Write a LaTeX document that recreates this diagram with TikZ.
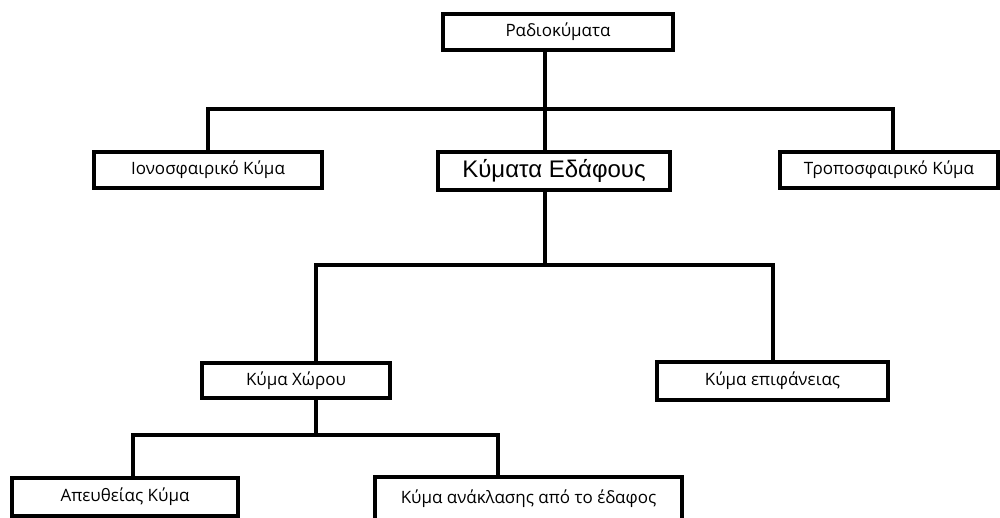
\documentclass[tikz,border=0pt]{standalone}
\usepackage{fontspec}
\setmainfont{Open Sans}
\newfontfamily\arialf{Liberation Sans}
\begin{document}
\begin{tikzpicture}[x=1pt,y=1pt,
  box/.style={draw=black, line width=3.2pt, fill=white, inner sep=0pt, font=\fontsize{17}{19}\selectfont},
  conn/.style={draw=black, line width=3.2pt, line cap=rect}]
\clip (0,0) rectangle (1000,518);
\fill[white] (0,0) rectangle (1000,518);
% nodes
\node[box, minimum width=230, minimum height=36] (radio) at (558,486) {Ραδιοκύματα};
\node[box, minimum width=228, minimum height=36] (iono) at (208,348) {Ιονοσφαιρικό Κύμα};
\node[box, minimum width=232, minimum height=38, font=\arialf\fontsize{24}{26}\selectfont] (edafous) at (554,347) {Κύματα Εδάφους};
\node[box, minimum width=218, minimum height=36] (tropo) at (889,348) {Τροποσφαιρικό Κύμα};
\node[box, minimum width=188, minimum height=35] (xorou) at (296,137.5) {Κύμα Χώρου};
\node[box, minimum width=231, minimum height=38] (epif) at (772.5,137) {Κύμα επιφάνειας};
\node[box, minimum width=226, minimum height=38] (apeu) at (125,21) {Απευθείας Κύμα};
\node[box, minimum width=307, minimum height=44, text depth=0pt] (anakl) at (528.5,19) {\raisebox{4pt}{Κύμα ανάκλασης από το έδαφος}};
% junction coordinates
\coordinate (j1) at (545,409);
\coordinate (l1) at (208,409);
\coordinate (r1) at (893,409);
\coordinate (j2) at (545,253);
\coordinate (l2) at (316,253);
\coordinate (r2) at (773,253);
\coordinate (j3) at (316,83);
\coordinate (l3) at (133,83);
\coordinate (r3) at (498,83);
% connectors
\draw[conn] (radio.south -| j1) -- (edafous.north -| j1);
\draw[conn] (iono.north -| l1) -- (l1) -- (r1) -- (tropo.north -| r1);
\draw[conn] (edafous.south -| j2) -- (j2);
\draw[conn] (xorou.north -| l2) -- (l2) -- (r2) -- (epif.north -| r2);
\draw[conn] (xorou.south -| j3) -- (j3);
\draw[conn] (apeu.north -| l3) -- (l3) -- (r3) -- (anakl.north -| r3);
\end{tikzpicture}
\end{document}
